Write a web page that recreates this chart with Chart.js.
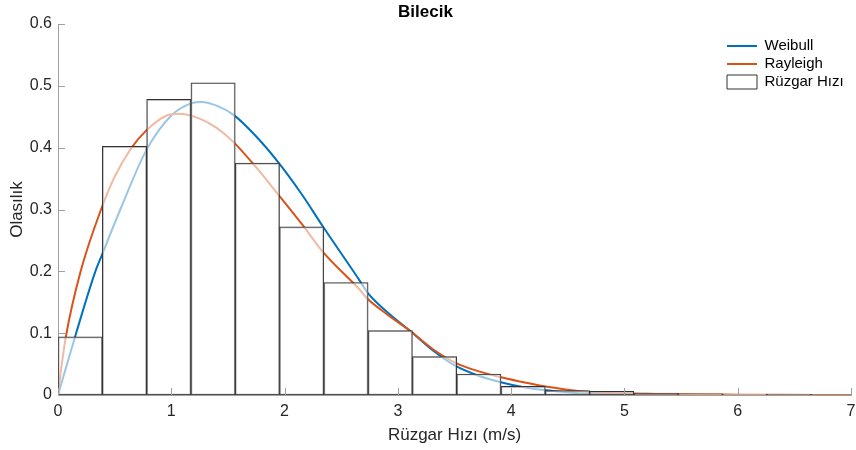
<!DOCTYPE html>
<html>
<head>
<meta charset="utf-8">
<script src="https://cdn.jsdelivr.net/npm/chart.js@4.4.1/dist/chart.umd.min.js"></script>
<style>
  html, body { margin: 0; background: #fff; }
</style>
</head>
<body>
<canvas id="chart" width="856" height="450"></canvas>
<script>
// histogram bins (width ~0.391 m/s)
const binCenters = [0.196, 0.587, 0.978, 1.369, 1.760, 2.151, 2.542, 2.933, 3.324,
                    3.715, 4.106, 4.497, 4.888, 5.279, 5.670, 6.061, 6.452, 6.843];
const histValues = [0.094, 0.402, 0.478, 0.505, 0.375, 0.272, 0.182, 0.104, 0.062,
                    0.034, 0.014, 0.007, 0.006, 0.003, 0.002, 0.001, 0.0015, 0.0008];

// fitted curves
const weibullX = [0, 0.08, 0.16, 0.33, 0.38, 0.55, 0.78, 1.0, 1.18, 1.27, 1.4, 1.55, 1.75, 1.95,
                  2.15, 2.34, 2.67, 2.73, 2.9, 3.12, 3.31, 3.51, 3.7, 3.9, 4.1, 4.29, 4.68, 5.2, 6.0, 7.0];
const weibullY = [0, 0.05, 0.10, 0.20, 0.223, 0.30, 0.396, 0.452, 0.472, 0.474, 0.468, 0.453, 0.418, 0.375,
                  0.325, 0.272, 0.183, 0.166, 0.135, 0.102, 0.072, 0.047, 0.032, 0.021, 0.013, 0.008, 0.002, 0.0005, 0, 0];

const rayleighX = [0, 0.03, 0.07, 0.2, 0.38, 0.5, 0.65, 0.78, 0.96, 1.07, 1.25, 1.4, 1.55, 1.75, 1.95,
                   2.15, 2.34, 2.67, 2.73, 2.9, 3.12, 3.31, 3.51, 3.7, 3.9, 4.1, 4.29, 4.68, 5.2, 6.0, 7.0];
const rayleighY = [0, 0.045, 0.095, 0.20, 0.30, 0.353, 0.40, 0.428, 0.452, 0.455, 0.447, 0.432, 0.409, 0.368, 0.323,
                   0.277, 0.231, 0.169, 0.156, 0.131, 0.102, 0.074, 0.052, 0.039, 0.029, 0.021, 0.014, 0.005, 0.002, 0.0005, 0];

const FONT = "'Liberation Sans', Arial, sans-serif";
const axisColor = '#a0a0a0';
const textColor = '#262626';

// MATLAB style ticks pointing into the plot
const innerTicks = {
    id: 'innerTicks',
    afterDatasetsDraw(chart) {
        const { ctx, chartArea: a, scales: { x, y } } = chart;
        ctx.save();
        ctx.strokeStyle = axisColor;
        ctx.lineWidth = 1;
        ctx.beginPath();
        x.ticks.forEach(t => {
            const px = Math.round(x.getPixelForValue(t.value)) + 0.5;
            ctx.moveTo(px, a.bottom);
            ctx.lineTo(px, a.bottom - 7);
        });
        y.ticks.forEach(t => {
            const py = Math.round(y.getPixelForValue(t.value)) + 0.5;
            ctx.moveTo(a.left, py);
            ctx.lineTo(a.left + 7, py);
        });
        ctx.stroke();
        ctx.restore();
    }
};

// put the legend in the top right corner of the plot
const legendCorner = {
    id: 'legendCorner',
    afterLayout(chart) {
        const lg = chart.legend;
        const w = lg.width;
        lg.left = 727 - lg.options.labels.padding;
        lg.right = lg.left + w;
        lg.top = 35.5;
    }
};

new Chart(document.getElementById('chart').getContext('2d'), {
    type: 'bar',
    data: {
        datasets: [{
            type: 'line',
            label: 'Weibull',
            data: weibullX.map((v, i) => ({ x: v, y: weibullY[i] })),
            borderColor: '#0072BD',
            backgroundColor: '#0072BD',
            borderWidth: 2,
            pointRadius: 0,
            pointStyle: 'line',
            cubicInterpolationMode: 'monotone',
            fill: false,
            order: 2
        }, {
            type: 'line',
            label: 'Rayleigh',
            data: rayleighX.map((v, i) => ({ x: v, y: rayleighY[i] })),
            borderColor: '#D95319',
            backgroundColor: '#D95319',
            borderWidth: 2,
            pointRadius: 0,
            pointStyle: 'line',
            cubicInterpolationMode: 'monotone',
            fill: false,
            order: 1
        }, {
            type: 'bar',
            label: 'Rüzgar Hızı',
            data: binCenters.map((v, i) => ({ x: v, y: histValues[i] })),
            backgroundColor: 'rgba(255,255,255,0.6)',
            borderColor: '#333333',
            borderWidth: 1,
            borderSkipped: false,
            barPercentage: 1,
            categoryPercentage: 1,
            pointStyle: 'rect',
            order: 0
        }]
    },
    options: {
        responsive: false,
        animation: false,
        layout: { padding: { left: 0, right: 5, top: 0, bottom: 0 } },
        plugins: {
            title: {
                display: true,
                text: 'Bilecik',
                color: '#000',
                font: { family: FONT, size: 17, weight: 'bold' },
                padding: { top: 2, bottom: 1.6 }
            },
            legend: {
                position: 'chartArea',
                align: 'start',
                labels: {
                    usePointStyle: true,
                    pointStyleWidth: 30,
                    boxHeight: 14,
                    padding: 3,
                    color: '#000',
                    font: { family: FONT, size: 15 },
                    sort: (a, b) => a.datasetIndex - b.datasetIndex
                }
            },
            tooltip: { enabled: false }
        },
        scales: {
            x: {
                type: 'linear',
                min: 0,
                max: 7,
                offset: false,
                z: 1,
                afterFit: s => { s.height = 55; s.paddingLeft = 0; s.paddingRight = 0; },
                ticks: {
                    stepSize: 1,
                    padding: 7,
                    color: textColor,
                    font: { family: FONT, size: 16 }
                },
                grid: { display: false, drawTicks: false },
                border: { display: true, color: axisColor, width: 1 },
                title: {
                    display: true,
                    text: 'Rüzgar Hızı (m/s)',
                    color: textColor,
                    font: { family: FONT, size: 17 },
                    padding: { top: 0, bottom: 4 }
                }
            },
            y: {
                min: 0,
                max: 0.6,
                z: 1,
                afterFit: s => { s.width = 58; },
                ticks: {
                    stepSize: 0.1,
                    padding: 6,
                    color: textColor,
                    font: { family: FONT, size: 16 }
                },
                grid: { display: false, drawTicks: false },
                border: { display: true, color: axisColor, width: 1 },
                title: {
                    display: true,
                    text: 'Olasılık',
                    color: textColor,
                    font: { family: FONT, size: 17 },
                    padding: { top: 7, bottom: 0 }
                }
            }
        }
    },
    plugins: [innerTicks, legendCorner]
});
</script>
</body>
</html>
